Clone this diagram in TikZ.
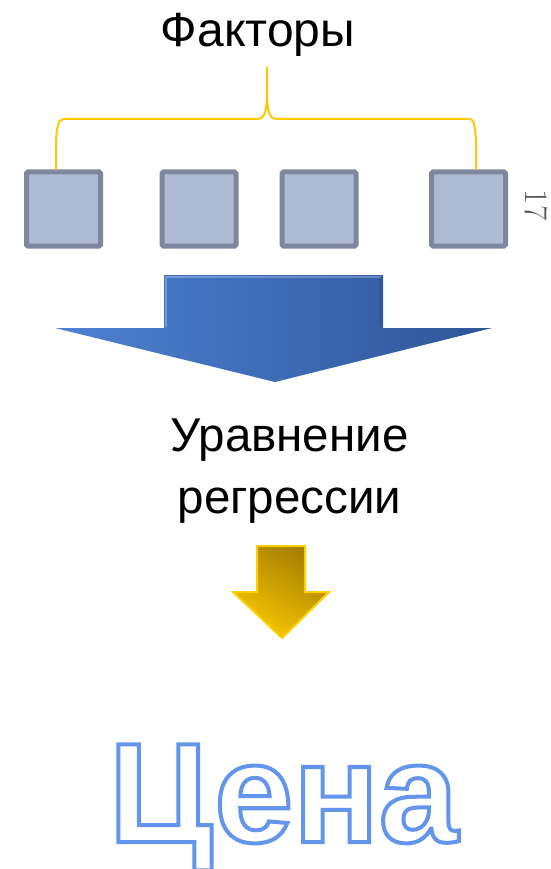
\documentclass[tikz,border=0pt]{standalone}
\usepackage{fontspec}
\setmainfont{Liberation Sans}
\newfontfamily\numfont{Latin Modern Roman}

\definecolor{boxfill}{HTML}{AFBAD5}
\definecolor{boxline}{HTML}{7F879E}
\definecolor{brace}{HTML}{FFC800}
\definecolor{blueL}{HTML}{4D82D3}
\definecolor{blueR}{HTML}{2E5598}
\definecolor{goldL}{HTML}{F9C800}
\definecolor{goldD}{HTML}{A57E00}
\definecolor{goldline}{HTML}{FFD000}
\definecolor{cenablue}{HTML}{6495ED}

% контурный текст (режим обводки)
\newcommand\outlined[1]{\special{pdf:literal direct 1 Tr 4 w}#1\special{pdf:literal direct 0 Tr}}

\tikzset{
  factor/.style={draw=boxline, fill=boxfill, line width=5pt, rounded corners=1.5pt,
    minimum size=74pt, inner sep=0pt},
  title/.style={font=\fontsize{48}{62}\selectfont, anchor=base, inner sep=0pt}
}

\begin{document}
\begin{tikzpicture}[x=1pt, y=-1pt]
        \useasboundingbox (0,0) rectangle (550,869);
        % Факторы
        \node[title] (fac) at (258,47) {Факторы};
        \node[factor] (f1) at (63.5,209) {};
        \node[factor] (f2) at (199,209) {};
        \node[factor] (f3) at (319,209) {};
        \node[factor] (f4) at (468.5,209) {};
        \node[font=\numfont\fontsize{33}{33}\selectfont, color=black!65, rotate=-90, inner sep=0pt] (pg) at (536.5,205) {17};
        % скобка над факторами
        \coordinate (top) at (267,67);
        \coordinate (bl) at ([xshift=-7.5pt]f1.north);
        \coordinate (br) at ([xshift=7.5pt]f4.north);
        \draw[brace, line width=2pt]
          (bl) -- (56,140) .. controls (57,127) and (58,119) .. (64,119) -- (258,119)
          .. controls (264,119) and (267,112) .. (267,92) -- (top);
        \draw[brace, line width=2pt]
          (br) -- (476,140) .. controls (475,127) and (474,119) .. (470,119) -- (276,119)
          .. controls (270,119) and (267,112) .. (267,92);
        % большая стрелка
        \shade[left color=blueL, right color=blueR]
          (164,275) -- (383,275) -- (383,328) -- (492,328) -- (275,382) -- (55,328) -- (164,328) -- cycle;
        \draw[white, opacity=.25, line width=1.5pt]
          (166,327) -- (166,277) -- (381,277);
        \draw[black, opacity=.15, line width=1.5pt]
          (381,277) -- (381,327);
        \node[title, align=center, anchor=north, font=\fontsize{47.5}{62}\selectfont] (eq) at (289.5,419)
          {Уравнение\\регрессии};
        % малая стрелка
        \shade[top color=goldD, bottom color=goldL, shading angle=-30, draw=goldline, line width=2pt]
          (257,546) -- (305,546) -- (305,592) -- (329,592) -- (282,638) -- (233,592) -- (257,592) -- cycle;
        % Цена
        \node[font=\bfseries\fontsize{142}{142}\selectfont, text=cenablue, anchor=base, inner sep=0pt] (price) at (283.5,842)
          {\outlined{Цена}};
\end{tikzpicture}
\end{document}
